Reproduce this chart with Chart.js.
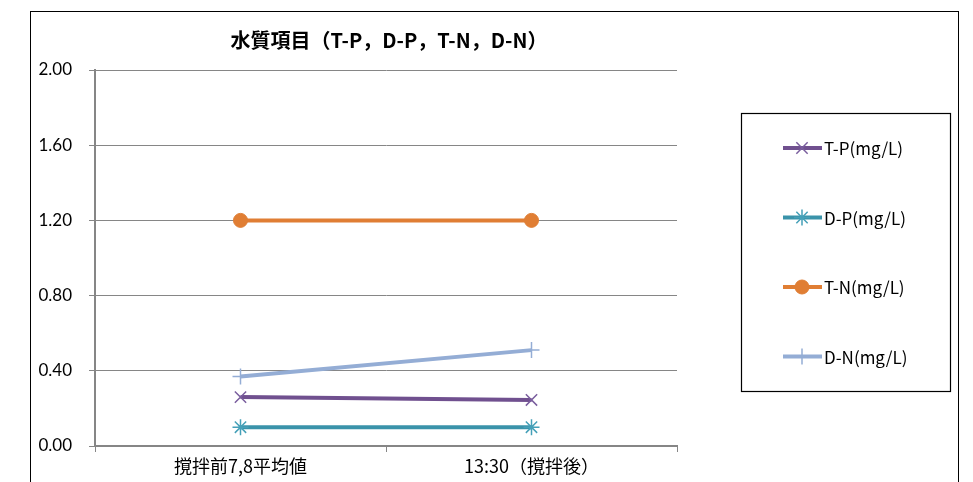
<!DOCTYPE html>
<html>
<head>
<meta charset="utf-8">
<script src="https://cdn.jsdelivr.net/npm/chart.js@4/dist/chart.umd.min.js"></script>
<style>
  html, body { margin: 0; padding: 0; background: #fff; overflow: hidden; }
  #wrap { width: 973px; height: 482px; position: relative; }
</style>
</head>
<body>
<div id="wrap"><canvas id="myChart" width="973" height="482"></canvas></div>
<script>
// categories and values
const labels = ["撹拌前7,8平均値", "13:30（撹拌後）"];
const tp = [0.26, 0.245];
const dp = [0.10, 0.10];
const tn = [1.20, 1.20];
const dn = [0.37, 0.51];
const seriesNames = ["T-P(mg/L)", "D-P(mg/L)", "T-N(mg/L)", "D-N(mg/L)"];
const chartTitle = "水質項目（T-P，D-P，T-N，D-N）";

const CJK = '"Noto Sans CJK JP", "Noto Sans", sans-serif';

// frame around the whole chart + title
const framePlugin = {
  id: "frame",
  beforeDraw(chart) {
    const ctx = chart.ctx;
    ctx.save();
    ctx.fillStyle = "#fff";
    ctx.fillRect(0, 0, chart.width, chart.height);
    ctx.strokeStyle = "#000";
    ctx.lineWidth = 1;
    ctx.strokeRect(30.5, 11.5, 928, 600);
    ctx.restore();
  },
  afterDraw(chart) {
    const ctx = chart.ctx;
    const a = chart.chartArea;
    ctx.save();
    ctx.font = "bold 20px " + CJK;
    ctx.fillStyle = "#000";
    ctx.textAlign = "center";
    ctx.textBaseline = "middle";
    ctx.fillText(chartTitle, 389, 40);
    ctx.restore();
  }
};

// legend drawn in its own box on the right
const legendBox = {
  id: "legendBox",
  afterDraw(chart) {
    const ctx = chart.ctx;
    ctx.save();
    ctx.strokeStyle = "#000";
    ctx.lineWidth = 1.2;
    ctx.strokeRect(741.5, 113.5, 209, 278);
    chart.data.datasets.forEach((ds, i) => {
      const y = 148 + i * 69.5;
      ctx.strokeStyle = ds.borderColor;
      ctx.lineWidth = 4;
      ctx.beginPath();
      ctx.moveTo(783, y);
      ctx.lineTo(822, y);
      ctx.stroke();
      ctx.strokeStyle = ds.pointBorderColor;
      ctx.fillStyle = ds.pointBackgroundColor;
      ctx.lineWidth = ds.pointBorderWidth;
      Chart.helpers.drawPoint(ctx, {
        pointStyle: ds.pointStyle,
        radius: ds.pointRadius,
        borderWidth: ds.pointBorderWidth,
        rotation: 0
      }, 802, y);
      ctx.fillStyle = "#000";
      ctx.font = "17px " + CJK;
      ctx.textAlign = "left";
      ctx.textBaseline = "middle";
      ctx.fillText(ds.label, 824, y + 1);
    });
    ctx.restore();
  }
};

new Chart(document.getElementById("myChart"), {
  type: "line",
  data: {
    labels: labels,
    datasets: [
      {
        label: seriesNames[0],
        data: tp,
        borderColor: "#70508f",
        borderWidth: 4,
        pointStyle: "crossRot",
        pointRadius: 8,
        pointBorderColor: "#7a5e9e",
        pointBackgroundColor: "#7a5e9e",
        pointBorderWidth: 1.5
      },
      {
        label: seriesNames[1],
        data: dp,
        borderColor: "#3a93aa",
        borderWidth: 4,
        pointStyle: "star",
        pointRadius: 8,
        pointBorderColor: "#45a0b8",
        pointBackgroundColor: "#45a0b8",
        pointBorderWidth: 1.5
      },
      {
        label: seriesNames[2],
        data: tn,
        borderColor: "#e07e34",
        borderWidth: 4,
        pointStyle: "circle",
        pointRadius: 7,
        pointBorderColor: "#e07e34",
        pointBackgroundColor: "#e07e34",
        pointBorderWidth: 1
      },
      {
        label: seriesNames[3],
        data: dn,
        borderColor: "#94add5",
        borderWidth: 4,
        pointStyle: "cross",
        pointRadius: 8,
        pointBorderColor: "#94add5",
        pointBackgroundColor: "#94add5",
        pointBorderWidth: 1.5
      }
    ]
  },
  options: {
    responsive: false,
    animation: false,
    devicePixelRatio: 1,
    layout: { padding: { left: 0, right: 296, top: 70, bottom: 0 } },
    plugins: {
      legend: { display: false },
      title: { display: false },
      tooltip: { enabled: false }
    },
    scales: {
      x: {
        offset: true,
        grid: {
          offset: true,
          drawOnChartArea: false,
          drawTicks: true,
          tickLength: 6,
          color: "#868686"
        },
        border: { color: "#868686", width: 2 },
        ticks: {
          color: "#000",
          font: { family: CJK, size: 18 },
          padding: 3,
          maxRotation: 0
        },
        afterFit(scale) { scale.height = 36; }
      },
      y: {
        min: 0,
        max: 2,
        grid: { color: "#868686", lineWidth: 1, tickLength: 6 },
        border: { color: "#868686", width: 2 },
        ticks: {
          stepSize: 0.4,
          color: "#000",
          font: { family: "Lato, 'Noto Sans', sans-serif", size: 17 },
          padding: 17,
          callback: (v) => v.toFixed(2)
        },
        afterFit(scale) { scale.width = 95; }
      }
    }
  },
  plugins: [framePlugin, legendBox]
});
</script>
</body>
</html>
